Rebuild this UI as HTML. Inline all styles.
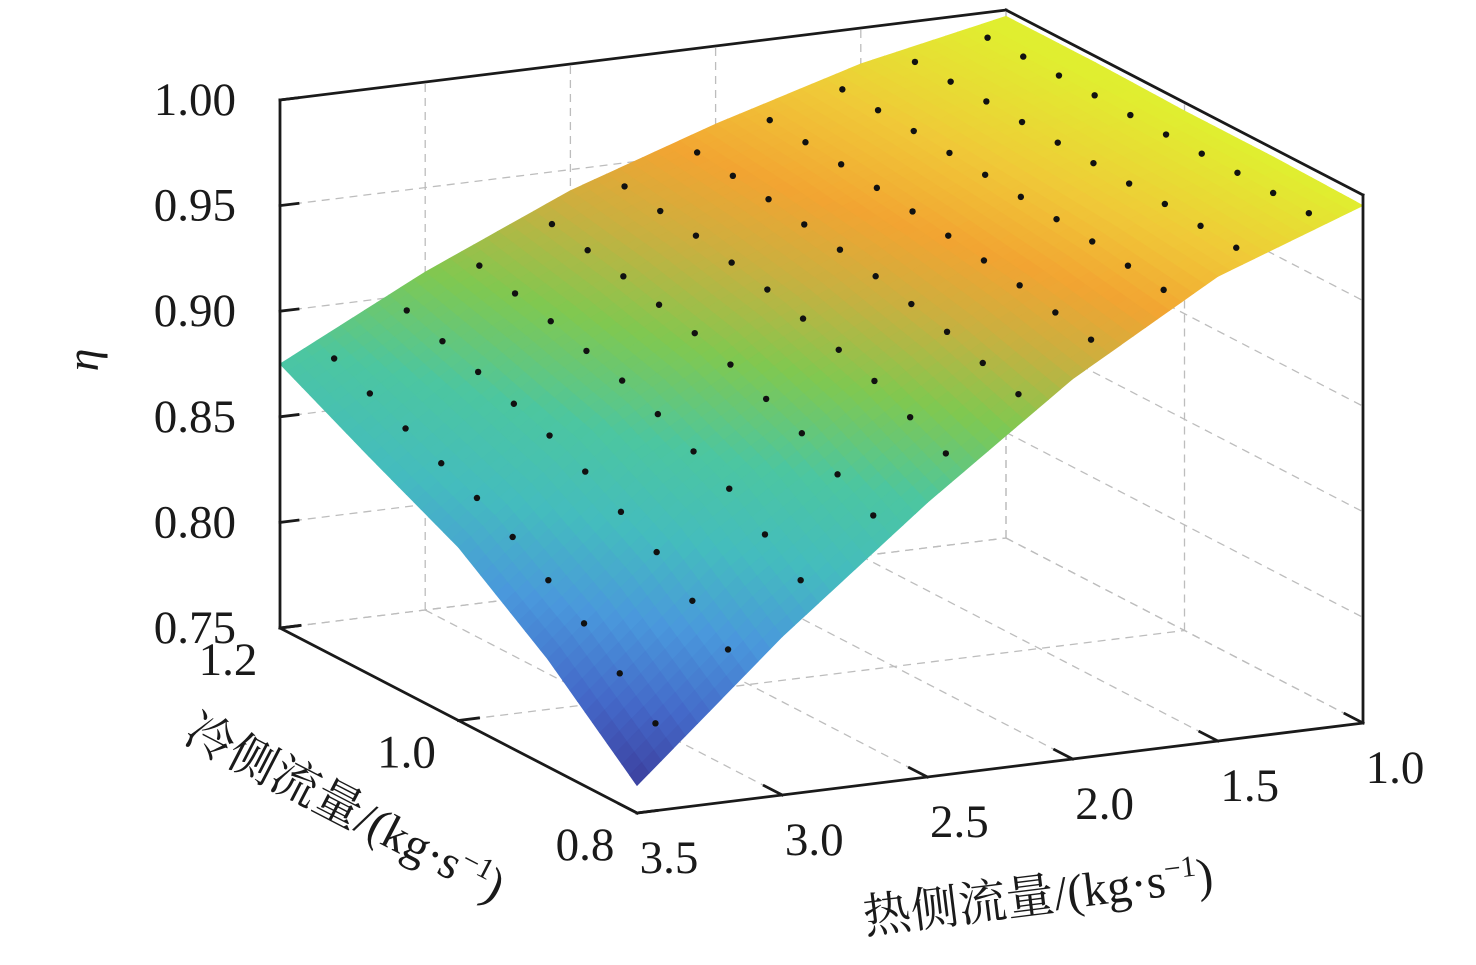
<!DOCTYPE html>
<html><head><meta charset="utf-8">
<style>
html,body{margin:0;padding:0;background:#fff;}
svg{display:block;}
text{font-family:"Liberation Serif","Noto Serif CJK SC",serif;fill:#1a1a1a;}
</style></head>
<body>
<svg id="chart" width="1476" height="965" viewBox="0 0 1476 965" xmlns="http://www.w3.org/2000/svg">
<g id="grid"></g>
<g id="surface"></g>
<g id="dots"></g>
<g id="axes"></g>
<g id="labels"></g>
<text x="0" y="0" font-size="46" font-style="italic" text-anchor="middle" transform="translate(98,360) rotate(-90)">η</text>
<text x="0" y="0" font-size="48" text-anchor="middle" transform="translate(338,822) rotate(27.4)">冷侧流量/(kg·s<tspan dy="-17" font-size="30">−1</tspan><tspan dy="17">)</tspan></text>
<text x="0" y="0" font-size="48" text-anchor="middle" transform="translate(1040,912) rotate(-7.1)">热侧流量/(kg·s<tspan dy="-17" font-size="30">−1</tspan><tspan dy="17">)</tspan></text>
</svg>
<script>
const hotVals=[3.5,3.0,2.5,2.0,1.5,1.0];
const coldVals=[1.2,1.1,1.0,0.9,0.8];
const eta=[
 [0.875,0.910,0.940,0.963,0.983,0.997],
 [0.853,0.898,0.932,0.958,0.981,0.997],
 [0.832,0.884,0.921,0.951,0.978,0.996],
 [0.801,0.860,0.904,0.942,0.975,0.996],
 [0.763,0.825,0.880,0.930,0.970,0.995]
];
const zTicks=[0.75,0.80,0.85,0.90,0.95,1.00];
const zTickLabels=["0.75","0.80","0.85","0.90","0.95","1.00"];
const coldTicks=[1.2,1.0,0.8];
const coldTickLabels=["1.2","1.0","0.8"];
const hotTicks=[3.5,3.0,2.5,2.0,1.5,1.0];
const hotTickLabels=["3.5","3.0","2.5","2.0","1.5","1.0"];

const NS="http://www.w3.org/2000/svg";
function sOf(h){return (3.5-h)/2.5;}
function tOf(c){return (1.2-c)/0.4;}
function P(s,t,z){return [280+726*s+357*t, 628-90*s+185*t-(z-0.75)/0.25*528];}
function mk(tag,attrs,parent){const e=document.createElementNS(NS,tag);for(const k in attrs)e.setAttribute(k,attrs[k]);parent.appendChild(e);return e;}

const cmap=[[0.76,[59,58,152]],[0.79,[68,104,200]],[0.82,[74,152,220]],[0.85,[68,188,190]],[0.88,[76,198,160]],[0.91,[128,200,80]],[0.935,[200,176,64]],[0.955,[242,164,50]],[0.975,[240,200,56]],[0.995,[224,238,48]]];
function color(z){
 if(z<=cmap[0][0])return `rgb(${cmap[0][1]})`;
 for(let i=1;i<cmap.length;i++){if(z<=cmap[i][0]){const a=cmap[i-1],b=cmap[i];const f=(z-a[0])/(b[0]-a[0]);return `rgb(${a[1].map((v,k)=>Math.round(v+(b[1][k]-v)*f)).join(',')})`;}}
 return `rgb(${cmap[cmap.length-1][1]})`;
}
function val(u,v){
 const nu=hotVals.length-1,nv=coldVals.length-1;
 let i=Math.min(Math.floor(u),nu-1),j=Math.min(Math.floor(v),nv-1);
 const fu=u-i,fv=v-j;
 return eta[j][i]*(1-fu)*(1-fv)+eta[j][i+1]*fu*(1-fv)+eta[j+1][i]*(1-fu)*fv+eta[j+1][i+1]*fu*fv;
}
function hAt(u){const i=Math.min(Math.floor(u),hotVals.length-2);return hotVals[i]+(hotVals[i+1]-hotVals[i])*(u-i);}
function cAt(v){const j=Math.min(Math.floor(v),coldVals.length-2);return coldVals[j]+(coldVals[j+1]-coldVals[j])*(v-j);}

const grid=document.getElementById('grid');
const gst={stroke:'#bdbdbd','stroke-width':1.3,'stroke-dasharray':'8,6',fill:'none'};
function gline(a,b,name){const l=mk('line',Object.assign({x1:a[0],y1:a[1],x2:b[0],y2:b[1]},gst),grid);}
zTicks.forEach(z=>{gline(P(0,0,z),P(1,0,z),'back-wall-gridline');gline(P(1,0,z),P(1,1,z),'right-wall-gridline');});
hotTicks.forEach(h=>{const s=sOf(h);gline(P(s,0,0.75),P(s,0,1.0),'back-wall-vgridline');gline(P(s,0,0.75),P(s,1,0.75),'floor-gridline');});
coldTicks.forEach(c=>{const t=tOf(c);gline(P(1,t,0.75),P(1,t,1.0),'right-wall-vgridline');gline(P(0,t,0.75),P(1,t,0.75),'floor-gridline');});

const surf=document.getElementById('surface');
const SUB=12;
const NU=(hotVals.length-1)*SUB,NV=(coldVals.length-1)*SUB;
const quads=[];
for(let a=0;a<NU;a++)for(let b=0;b<NV;b++){
 const u0=a/SUB,u1=(a+1)/SUB,v0=b/SUB,v1=(b+1)/SUB;
 const pts=[[u0,v0],[u1,v0],[u1,v1],[u0,v1]].map(([u,v])=>P(sOf(hAt(u)),tOf(cAt(v)),val(u,v)));
 const zc=val((u0+u1)/2,(v0+v1)/2);
 const sc=sOf(hAt((u0+u1)/2)),tc=tOf(cAt((v0+v1)/2));
 quads.push({pts,zc,key:tc+(1-sc)});
}
quads.sort((p,q)=>p.key-q.key);
quads.forEach(q=>{const c=color(q.zc);const p=mk('polygon',{points:q.pts.map(p=>p.join(',')).join(' '),fill:c,stroke:c,'stroke-width':0.8},surf);});

const dots=document.getElementById('dots');
for(let a=0;a<10;a++)for(let b=0;b<10;b++){
 const u=(a+0.5)/10*(hotVals.length-1),v=(b+0.5)/10*(coldVals.length-1);
 const p=P(sOf(hAt(u)),tOf(cAt(v)),val(u,v));
 const d=mk('circle',{cx:p[0],cy:p[1],r:3.2,fill:'#111'},dots);
 
}

const axes=document.getElementById('axes');
const ast={stroke:'#1a1a1a','stroke-width':2.8,fill:'none','stroke-linecap':'square'};
function aline(a,b,name){const l=mk('line',Object.assign({x1:a[0],y1:a[1],x2:b[0],y2:b[1]},ast),axes);}
aline(P(0,0,0.75),P(0,0,1.0),'z-axis-line');
aline(P(0,0,1.0),P(1,0,1.0),'box-top-back');
aline(P(1,0,1.0),P(1,1,1.0),'box-top-right');
aline(P(1,1,1.0),P(1,1,0.75),'box-right-edge');
aline(P(0,0,0.75),P(0,1,0.75),'cold-axis-line');
aline(P(0,1,0.75),P(1,1,0.75),'hot-axis-line');

const labels=document.getElementById('labels');
function txt(x,y,s,anchor,name){const e=mk('text',{x:x,y:y,'font-size':47,'text-anchor':anchor,'dominant-baseline':'central'},labels);e.textContent=s;}
zTicks.forEach((z,i)=>{const p=P(0,0,z);aline(p,[p[0]+18,p[1]-2.2],'z-tick');txt(p[0]-44,p[1],zTickLabels[i],'end','z-tick-label');});
coldTicks.forEach((c,i)=>{const p=P(0,tOf(c),0.75);aline(p,[p[0]+20,p[1]-2.5],'cold-tick');txt(p[0]-52,p[1]+32,coldTickLabels[i],'middle','cold-tick-label');});
hotTicks.forEach((h,i)=>{const p=P(sOf(h),1,0.75);aline(p,[p[0]-18,p[1]-9.3],'hot-tick');txt(p[0]+32,p[1]+45,hotTickLabels[i],'middle','hot-tick-label');});
</script>
</body></html>
